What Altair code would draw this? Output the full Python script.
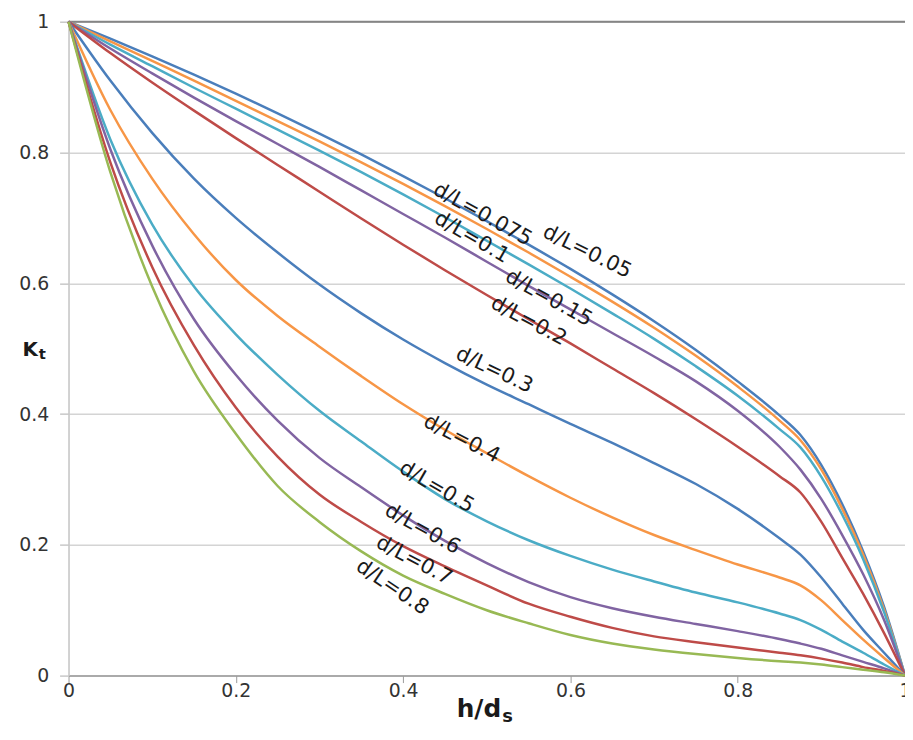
import altair as alt
import pandas as pd

# ---------------- data ----------------
h_ds = [0, 0.05, 0.1, 0.15, 0.2, 0.25, 0.3, 0.35, 0.4, 0.45, 0.5, 0.55,
        0.6, 0.65, 0.7, 0.75, 0.8, 0.85, 0.875, 0.9, 0.925, 0.95, 0.975, 1.0]

series_names = ["d/L=0.05", "d/L=0.075", "d/L=0.1", "d/L=0.15", "d/L=0.2",
                "d/L=0.3", "d/L=0.4", "d/L=0.5", "d/L=0.6", "d/L=0.7", "d/L=0.8"]

kt_005 = [1.0, 0.974, 0.947, 0.919, 0.89, 0.86, 0.829, 0.797, 0.764, 0.73, 0.695, 0.659,
          0.622, 0.583, 0.542, 0.498, 0.45, 0.398, 0.368, 0.322, 0.262, 0.19, 0.105, 0.0]
kt_0075 = [1.0, 0.97, 0.94, 0.91, 0.879, 0.848, 0.817, 0.785, 0.752, 0.718, 0.683, 0.647,
           0.61, 0.572, 0.532, 0.489, 0.442, 0.39, 0.36, 0.315, 0.255, 0.185, 0.101, 0.0]
kt_01 = [1.0, 0.965, 0.932, 0.899, 0.867, 0.835, 0.803, 0.77, 0.736, 0.701, 0.665, 0.629,
         0.592, 0.554, 0.515, 0.473, 0.428, 0.377, 0.349, 0.304, 0.246, 0.178, 0.097, 0.0]
kt_015 = [1.0, 0.959, 0.921, 0.884, 0.848, 0.813, 0.778, 0.742, 0.706, 0.67, 0.633, 0.596,
          0.56, 0.524, 0.488, 0.45, 0.405, 0.35, 0.315, 0.27, 0.215, 0.155, 0.085, 0.0]
kt_02 = [1.0, 0.952, 0.907, 0.864, 0.822, 0.781, 0.74, 0.699, 0.659, 0.62, 0.582, 0.545,
         0.508, 0.47, 0.432, 0.392, 0.35, 0.305, 0.28, 0.235, 0.18, 0.125, 0.065, 0.0]
kt_03 = [1.0, 0.91, 0.83, 0.76, 0.70, 0.647, 0.598, 0.554, 0.514, 0.478, 0.445, 0.415,
         0.385, 0.356, 0.325, 0.293, 0.255, 0.21, 0.185, 0.15, 0.11, 0.07, 0.035, 0.0]
kt_04 = [1.0, 0.865, 0.76, 0.675, 0.605, 0.55, 0.503, 0.458, 0.415, 0.376, 0.34, 0.305,
         0.272, 0.242, 0.215, 0.192, 0.17, 0.15, 0.138, 0.115, 0.085, 0.055, 0.027, 0.0]
kt_05 = [1.0, 0.82, 0.69, 0.595, 0.522, 0.46, 0.405, 0.358, 0.312, 0.27, 0.236, 0.207,
         0.183, 0.162, 0.144, 0.127, 0.112, 0.095, 0.085, 0.07, 0.052, 0.035, 0.017, 0.0]
kt_06 = [1.0, 0.805, 0.658, 0.545, 0.46, 0.39, 0.333, 0.288, 0.245, 0.206, 0.172, 0.143,
         0.12, 0.103, 0.09, 0.079, 0.068, 0.056, 0.049, 0.041, 0.031, 0.021, 0.011, 0.0]
kt_07 = [1.0, 0.785, 0.625, 0.505, 0.41, 0.335, 0.277, 0.235, 0.198, 0.167, 0.138, 0.11,
         0.09, 0.073, 0.06, 0.051, 0.043, 0.035, 0.031, 0.026, 0.02, 0.013, 0.007, 0.0]
kt_08 = [1.0, 0.77, 0.595, 0.465, 0.37, 0.29, 0.235, 0.19, 0.153, 0.125, 0.1, 0.08,
         0.062, 0.049, 0.04, 0.033, 0.027, 0.022, 0.02, 0.017, 0.013, 0.009, 0.005, 0.0]

series_values = [kt_005, kt_0075, kt_01, kt_015, kt_02, kt_03,
                 kt_04, kt_05, kt_06, kt_07, kt_08]

series_colors = ["#4A7EBB", "#F79646", "#4BACC6", "#8064A2", "#BE4B48", "#4A7EBB",
                 "#F79646", "#4BACC6", "#8064A2", "#BE4B48", "#98B954"]

# in-plot curve labels (data coordinates) and their rotation
label_text = ["d/L=0.075", "d/L=0.05", "d/L=0.1", "d/L=0.15", "d/L=0.2", "d/L=0.3",
              "d/L=0.4", "d/L=0.5", "d/L=0.6", "d/L=0.7", "d/L=0.8"]
label_x = [0.495, 0.62, 0.482, 0.574, 0.55, 0.509, 0.47, 0.44, 0.423, 0.413, 0.387]
label_y = [0.705, 0.648, 0.67, 0.577, 0.542, 0.467, 0.362, 0.288, 0.224, 0.176, 0.135]
label_angle = [29, 26, 30, 29, 28, 25, 27, 30, 29, 28, 34]

tick_values = [0, 0.2, 0.4, 0.6, 0.8, 1.0]

# ---------------- build tables ----------------
rows = []
for name, ys in zip(series_names, series_values):
    for xv, yv in zip(h_ds, ys):
        rows.append({"series": name, "h": xv, "kt": yv})
df = pd.DataFrame(rows)

labels_df = pd.DataFrame({"text": label_text, "h": label_x, "kt": label_y,
                          "angle": label_angle})

FONT = "DejaVu Sans"

x_enc = alt.X("h:Q", scale=alt.Scale(domain=[0, 1], nice=False, zero=False),
              axis=alt.Axis(values=tick_values, format="~g", grid=False, title=None,
                            domainColor="#9a9a9a", domainWidth=1.5,
                            tickColor="#9a9a9a", tickSize=7, tickWidth=1,
                            labelFont=FONT, labelFontSize=19, labelColor="#333333",
                            labelPadding=-1, labelFlush=False, labelOverlap=False))
y_enc = alt.Y("kt:Q", scale=alt.Scale(domain=[0, 1], nice=False),
              axis=alt.Axis(values=tick_values, format="~g", grid=True, title=None,
                            gridColor="#d4d4d4", gridWidth=1.5,
                            domainColor="#c8c8c8", domainWidth=1.5,
                            tickColor="#c8c8c8", tickSize=9, tickWidth=1.5,
                            labelFont=FONT, labelFontSize=19, labelColor="#333333",
                            labelPadding=11, labelFlush=False, labelOverlap=False))

lines = alt.Chart(df).mark_line(strokeWidth=2.5, interpolate="monotone").encode(
    x=x_enc,
    y=y_enc,
    color=alt.Color("series:N", scale=alt.Scale(domain=series_names, range=series_colors),
                    legend=None),
    order=alt.Order("h:Q"),
)

top_rule = alt.Chart(pd.DataFrame({"kt": [1.0]})).mark_rule(
    color="#858585", strokeWidth=2).encode(y="kt:Q")

labels = alt.Chart(labels_df).mark_text(
    font=FONT, fontSize=21, color="#1a1a1a", align="center", baseline="middle"
).encode(
    x="h:Q", y="kt:Q", text="text:N", angle=alt.Angle("angle:Q", scale=None)
)

k_title = alt.Chart(pd.DataFrame({"t": ["K"]})).mark_text(
    font=FONT, fontSize=20, fontWeight="bold", color="#1a1a1a", align="right",
    baseline="middle").encode(text="t:N", x=alt.value(-31), y=alt.value(331))
k_sub = alt.Chart(pd.DataFrame({"t": ["t"]})).mark_text(
    font=FONT, fontSize=15, fontWeight="bold", color="#1a1a1a", align="left",
    baseline="middle").encode(text="t:N", x=alt.value(-30), y=alt.value(335))
h_title = alt.Chart(pd.DataFrame({"t": ["h/d"]})).mark_text(
    font=FONT, fontSize=25, fontWeight="bold", color="#1a1a1a", align="right",
    baseline="middle").encode(text="t:N", x=alt.value(436), y=alt.value(693))
h_sub = alt.Chart(pd.DataFrame({"t": ["s"]})).mark_text(
    font=FONT, fontSize=18, fontWeight="bold", color="#1a1a1a", align="left",
    baseline="middle").encode(text="t:N", x=alt.value(437), y=alt.value(701))

chart = alt.layer(top_rule, lines, labels, k_title, k_sub, h_title, h_sub).properties(
    width=843, height=659,
    autosize=alt.AutoSizeParams(type="none"),
    padding={"left": 61, "top": 11, "right": 0, "bottom": 54},
).configure_view(stroke=None).configure(background="white")

chart.save("out.html", embed_options={"renderer": "svg", "actions": False})
